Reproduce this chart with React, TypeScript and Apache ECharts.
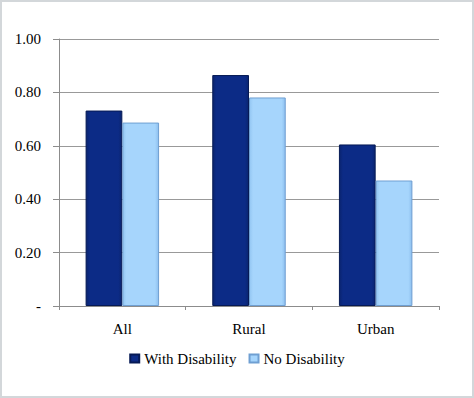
import React, { useEffect, useRef } from "react";
import * as echarts from "echarts";

const categories = ["All", "Rural", "Urban"];
const withDisability = [0.732, 0.865, 0.605];
const noDisability = [0.687, 0.781, 0.47];
const seriesNames = ["With Disability", "No Disability"];
const yTicks = [0, 0.2, 0.4, 0.6, 0.8, 1.0];

export default function App() {
  const ref = useRef<HTMLDivElement>(null);
  useEffect(() => {
    if (!ref.current) return;
    const chart = echarts.init(ref.current, null, { renderer: "svg" });
    const font = "serif";
    chart.setOption({
      animation: false,
      backgroundColor: "#ffffff",
      textStyle: { fontFamily: font },
      grid: { left: 59, right: 35, top: 39, bottom: 92, containLabel: false },
      legend: {
        bottom: 27,
        left: "center",
        itemWidth: 9,
        itemHeight: 8,
        itemGap: 12,
        textStyle: { fontFamily: font, fontSize: 15, color: "#000" },
        data: seriesNames.map((n) => ({ name: n, icon: "rect" })),
      },
      xAxis: {
        type: "category",
        data: categories,
        axisLine: { lineStyle: { color: "#8c8c8c", width: 1 } },
        axisTick: { show: true, length: 4, lineStyle: { color: "#8c8c8c" } },
        axisLabel: { fontFamily: font, fontSize: 15, color: "#000", margin: 15 },
      },
      yAxis: {
        type: "value",
        min: yTicks[0],
        max: yTicks[yTicks.length - 1],
        interval: 0.2,
        axisLine: { show: true, lineStyle: { color: "#8c8c8c", width: 1 } },
        axisTick: { show: true, length: 6, lineStyle: { color: "#8c8c8c" } },
        splitLine: { lineStyle: { color: "#999999", width: 1 } },
        axisLabel: {
          fontFamily: font,
          fontSize: 15,
          color: "#000",
          margin: 18,
          formatter: (v: number) => (Math.abs(v) < 1e-9 ? "-" : v.toFixed(2)),
        },
      },
      series: [
        {
          name: seriesNames[0],
          type: "bar",
          data: withDisability,
          barGap: "0%",
          barCategoryGap: "42%",
          itemStyle: {
            color: new echarts.graphic.LinearGradient(0, 0, 1, 0, [
              { offset: 0, color: "#0a2470" },
              { offset: 0.1, color: "#0c2b86" },
              { offset: 0.9, color: "#0c2b86" },
              { offset: 1, color: "#0a2470" },
            ]),
            borderColor: "#061a55",
            borderWidth: 1,
          },
        },
        {
          name: seriesNames[1],
          type: "bar",
          data: noDisability,
          itemStyle: {
            color: new echarts.graphic.LinearGradient(0, 0, 1, 0, [
              { offset: 0, color: "#93c6f2" },
              { offset: 0.1, color: "#a6d5fc" },
              { offset: 0.9, color: "#a6d5fc" },
              { offset: 1, color: "#8dbfee" },
            ]),
            borderColor: "#6f9fd2",
            borderWidth: 1,
          },
        },
      ],
    });
    return () => chart.dispose();
  }, []);
  return (
    <div style={{ position: "fixed", left: 0, top: 0, width: 474, height: 398, background: "#fff" }}>
      <div ref={ref} style={{ position: "absolute", left: 0, top: 0, width: 474, height: 398 }} />
      <div
        style={{
          position: "absolute",
          left: 0,
          top: 0,
          width: 474,
          height: 398,
          boxSizing: "border-box",
          border: "2px solid #d3d7da",
          pointerEvents: "none",
        }}
      />
    </div>
  );
}
